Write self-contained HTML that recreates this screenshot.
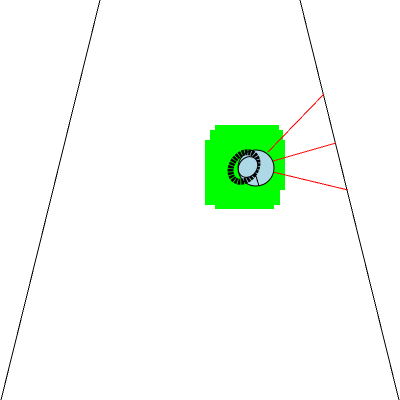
<!DOCTYPE html>
<html><head><meta charset="utf-8"><style>html,body{margin:0;padding:0;background:#fff;width:400px;height:400px;overflow:hidden}</style></head>
<body>
<svg id="chart" width="400" height="400" viewBox="0 0 400 400" xmlns="http://www.w3.org/2000/svg" shape-rendering="crispEdges">
<line x1="100" y1="0" x2="1" y2="400" stroke="#000" stroke-width="1"/>
<line x1="300" y1="0" x2="399" y2="400" stroke="#000" stroke-width="1"/>
<path fill="#00ff00" d="M215,125 H279 V130 H283 V140 H285 V190 H280 V205 H274 V209 H215 V205 H205 V190 H205 V140 H210 V130 H215 Z"/>
<g id="rays"></g>
<circle cx="256" cy="168" r="18" fill="#add8e6" stroke="#000" stroke-width="1" shape-rendering="auto"/>
<ellipse cx="244" cy="167" rx="12" ry="16" fill="none" stroke="#000" stroke-width="6" stroke-dasharray="2.5 0.7" shape-rendering="auto" transform="rotate(35 244 167)"/>
<ellipse cx="248" cy="167" rx="9" ry="11" fill="#add8e6" stroke="#000" stroke-width="1" shape-rendering="auto" transform="rotate(35 248 167)"/>
<line x1="256" y1="176" x2="259" y2="186" stroke="#000" stroke-width="1"/>
</svg>
<script>
const rayStartX = [268, 273, 273];
const rayStartY = [152, 161, 172];
const rayEndX = [324, 336, 348];
const rayEndY = [94, 143, 190];
const g = document.getElementById('rays');
for (let i = 0; i < rayStartX.length; i++) {
  const l = document.createElementNS('http://www.w3.org/2000/svg', 'line');
  
  
  l.setAttribute('x1', rayStartX[i]); l.setAttribute('y1', rayStartY[i]);
  l.setAttribute('x2', rayEndX[i]); l.setAttribute('y2', rayEndY[i]);
  l.setAttribute('stroke', '#ff0000'); l.setAttribute('stroke-width', '1');
  g.appendChild(l);
}
</script>
</body></html>
